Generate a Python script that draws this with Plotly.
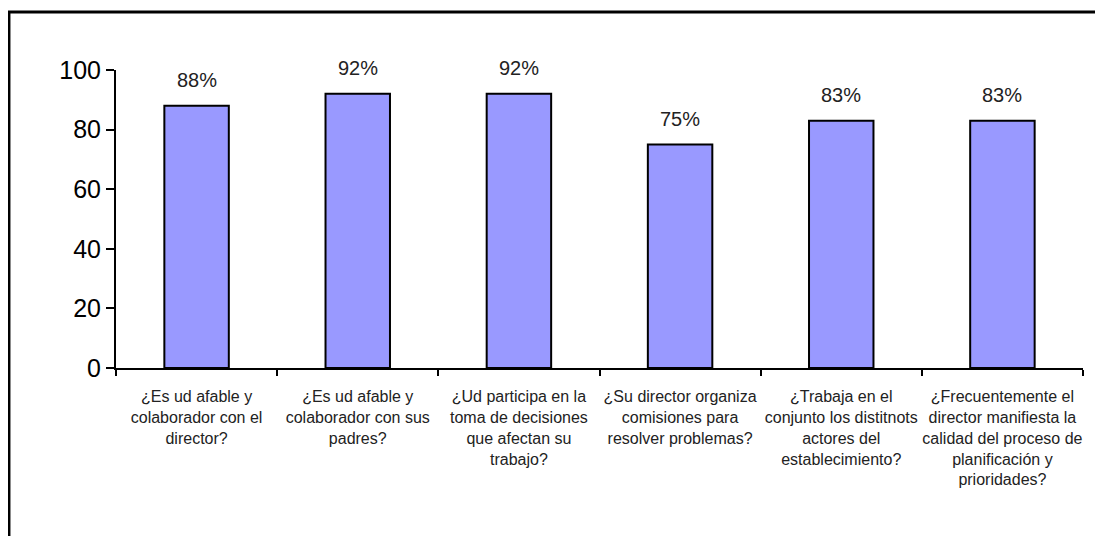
import plotly.graph_objects as go

categories = [
    "¿Es ud afable y<br>colaborador con el<br>director?",
    "¿Es ud afable y<br>colaborador con sus<br>padres?",
    "¿Ud participa en la<br>toma de decisiones<br>que afectan su<br>trabajo?",
    "¿Su director organiza<br>comisiones para<br>resolver problemas?",
    "¿Trabaja en el<br>conjunto los distitnots<br>actores del<br>establecimiento?",
    "¿Frecuentemente el<br>director manifiesta la<br>calidad del proceso de<br>planificación y<br>prioridades?",
]
values = [88, 92, 92, 75, 83, 83]
labels = [f"{v}%" for v in values]

FONT = "Liberation Sans"

fig = go.Figure()
fig.add_trace(go.Bar(
    x=categories, y=values,
    marker=dict(color="#9999FF", line=dict(color="black", width=2)),
    width=0.4,
))

for c, v, t in zip(categories, values, labels):
    fig.add_annotation(x=c, y=v, text=t, showarrow=False, yanchor="bottom",
                       yshift=13, font=dict(size=20, color="#222222", family=FONT))

fig.add_shape(type="rect", xref="paper", yref="paper",
              x0=-0.1107, x1=1.2, y0=-0.7, y1=1.1946,
              line=dict(color="black", width=3), layer="below")

fig.update_layout(
    width=1103, height=536,
    margin=dict(l=108, r=28, t=62, b=176),
    paper_bgcolor="white", plot_bgcolor="white",
    showlegend=False,
    font=dict(family=FONT, color="black"),
    xaxis=dict(
        showline=True, linecolor="black", linewidth=2,
        ticks="outside", tickson="boundaries", ticklen=6, tickwidth=2, tickcolor="black",
        tickfont=dict(size=16, color="#222222", family=FONT), tickangle=0,
        ticklabelstandoff=13,
        showgrid=False,
    ),
    yaxis=dict(
        range=[0, 100], dtick=20,
        showline=True, linecolor="black", linewidth=2,
        ticks="outside", ticklen=8, tickwidth=2, tickcolor="black",
        tickfont=dict(size=25, color="black"),
        showgrid=False, zeroline=False,
    ),
)

fig.write_html("out.html")
